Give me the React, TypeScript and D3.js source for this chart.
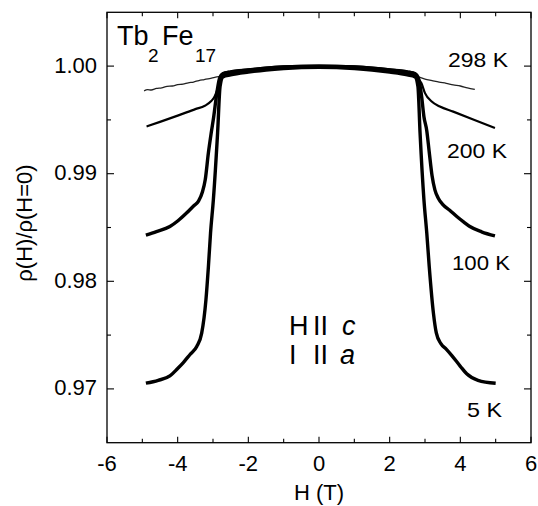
import React from "react";
import * as d3 from "d3";

// ---- data (H in tesla, rho(H)/rho(H=0)) ----
const curve298K: [number, number][] = [
  [-4.95, 0.9977], [-4.85, 0.99782], [-4.75, 0.99778], [-4.6, 0.99792], [-4.45, 0.99798],
  [-4.3, 0.99812], [-4.15, 0.99815], [-4.0, 0.99828], [-3.85, 0.99832], [-3.7, 0.99845],
  [-3.55, 0.99852], [-3.4, 0.99866], [-3.25, 0.99875], [-3.1, 0.99884], [-2.95, 0.99895],
  [-2.8, 0.99905], [-2.6, 0.99925], [-2.3, 0.99945], [-2.0, 0.9996], [-1.5, 0.99978],
  [-1.0, 0.9999], [-0.5, 0.99998], [0, 1.00002], [0.5, 0.99999], [1.0, 0.99992],
  [1.5, 0.9998], [2.0, 0.99963], [2.3, 0.9995], [2.6, 0.99925], [2.8, 0.99902],
  [3.0, 0.9988], [3.2, 0.99866], [3.4, 0.99852], [3.6, 0.9984], [3.8, 0.99826],
  [4.0, 0.99815], [4.2, 0.99798], [4.41, 0.99783],
];

const curve200K: [number, number][] = [
  [-4.88, 0.99439], [-4.5, 0.99482], [-4.0, 0.9954], [-3.5, 0.996], [-3.23, 0.99631],
  [-3.05, 0.99675], [-2.95, 0.9972], [-2.86, 0.998], [-2.8, 0.9988], [-2.72, 0.99935],
  [-2.5, 0.99952], [-2.0, 0.9997], [-1.5, 0.99986], [-1.0, 0.99997], [-0.5, 1.00003],
  [0, 1.00005], [0.5, 1.00003], [1.0, 0.99997], [1.5, 0.99986], [2.0, 0.9997],
  [2.5, 0.99952], [2.72, 0.99935], [2.8, 0.9989], [2.9, 0.9984], [3.0, 0.99749],
  [3.19, 0.99671], [3.42, 0.99624], [3.8, 0.99577], [4.4, 0.995], [4.98, 0.99424],
];

const curve100K: [number, number][] = [
  [-4.9, 0.9843], [-4.6, 0.98462], [-4.22, 0.98509], [-4.0, 0.9856], [-3.75, 0.98634],
  [-3.55, 0.987], [-3.41, 0.98745], [-3.3, 0.9883], [-3.22, 0.98943], [-3.13, 0.99194],
  [-3.05, 0.9938], [-2.98, 0.9953], [-2.9, 0.9973], [-2.82, 0.9988], [-2.74, 0.99925],
  [-2.5, 0.99944], [-2.0, 0.99964], [-1.5, 0.9998], [-1.0, 0.99991], [-0.5, 0.99997],
  [0, 0.99999], [0.5, 0.99997], [1.0, 0.99991], [1.5, 0.9998], [2.0, 0.99964],
  [2.5, 0.99944], [2.74, 0.99925], [2.82, 0.9988], [2.9, 0.9973], [2.97, 0.9953],
  [3.05, 0.994], [3.12, 0.992], [3.2, 0.9898], [3.28, 0.9885], [3.38, 0.9877],
  [3.5, 0.98715], [3.7, 0.9866], [3.9, 0.98602], [4.1, 0.9855], [4.27, 0.98509],
  [4.6, 0.9846], [4.98, 0.98422],
];

const curve5K: [number, number][] = [
  [-4.9, 0.97053], [-4.55, 0.9708], [-4.22, 0.97121], [-4.0, 0.9719], [-3.84, 0.97245],
  [-3.65, 0.9732], [-3.46, 0.97394], [-3.32, 0.97518], [-3.2, 0.97828], [-3.13, 0.98137],
  [-3.07, 0.98447], [-2.99, 0.98757], [-2.87, 0.9938], [-2.8, 0.9981], [-2.72, 0.999],
  [-2.5, 0.99918], [-2.0, 0.99944], [-1.5, 0.99964], [-1.0, 0.99978], [-0.5, 0.99987],
  [0, 0.9999], [0.5, 0.99987], [1.0, 0.99978], [1.5, 0.99964], [2.0, 0.99944],
  [2.5, 0.99918], [2.72, 0.999], [2.8, 0.9981], [2.86, 0.9938], [2.97, 0.98757],
  [3.05, 0.9845], [3.12, 0.98137], [3.24, 0.977], [3.32, 0.9752], [3.45, 0.9742],
  [3.6, 0.9737], [3.76, 0.9731], [4.0, 0.9721], [4.18, 0.9714], [4.5, 0.9708],
  [5.0, 0.97053],
];

const curveLabels = ["298 K", "200 K", "100 K", "5 K"];
const xDomain: [number, number] = [-6, 6];
const yDomain: [number, number] = [0.965, 1.005];
const xTickValues = [-6, -5, -4, -3, -2, -1, 0, 1, 2, 3, 4, 5, 6];
const yTickValues = [0.97, 0.975, 0.98, 0.985, 0.99, 0.995, 1.0];

const FONT = "'Liberation Sans', Arial, Helvetica, sans-serif";

export default function App() {
  const W = 538;
  const Hh = 506;
  const left = 107, right = 531, top = 12.3, bottom = 442.7;
  const x = d3.scaleLinear().domain(xDomain).range([left, right]);
  const y = d3.scaleLinear().domain(yDomain).range([bottom, top]);
  const line = d3
    .line<[number, number]>()
    .x((d) => x(d[0]))
    .y((d) => y(d[1]))
    .curve(d3.curveMonotoneX);

  const isMajorX = (v: number) => Math.abs(v % 2) < 1e-9;
  const isMajorY = (v: number) => Math.abs(Math.round(v * 100) - v * 100) < 1e-6;

  const labelPos = [
    { t: curveLabels[0], x: 448, y: 67, w: 60 },
    { t: curveLabels[1], x: 447, y: 158, w: 60 },
    { t: curveLabels[2], x: 452, y: 270, w: 58 },
    { t: curveLabels[3], x: 467, y: 417, w: 35 },
  ];

  return (
    <svg width={W} height={Hh} style={{ position: "absolute", left: 0, top: 0, background: "#fff" }}>
      <rect x={0} y={0} width={W} height={Hh} fill="#fff" />
      {/* curves */}
      <path d={line(curve298K) || ""} fill="none" stroke="#222" strokeWidth={1.3} />
      <path d={line(curve200K) || ""} fill="none" stroke="#000" strokeWidth={2.2} />
      <path d={line(curve100K) || ""} fill="none" stroke="#000" strokeWidth={3.4} />
      <path d={line(curve5K) || ""} fill="none" stroke="#000" strokeWidth={3.4} />

      {/* frame */}
      <rect x={left} y={top} width={right - left} height={bottom - top} fill="none" stroke="#000" strokeWidth={1.3} />

      {/* x ticks */}
      {xTickValues.map((v) => {
        const len = isMajorX(v) ? 6 : 4;
        return (
          <g key={"xt" + v}>
            <line x1={x(v)} x2={x(v)} y1={bottom} y2={bottom - len} stroke="#000" strokeWidth={1.1} />
            <line x1={x(v)} x2={x(v)} y1={top} y2={top + len} stroke="#000" strokeWidth={1.1} />
            {isMajorX(v) && (
              <text x={x(v)} y={471} textAnchor="middle" fontFamily={FONT} fontSize={22}>
                {String(v)}
              </text>
            )}
          </g>
        );
      })}
      {/* y ticks */}
      {yTickValues.map((v) => {
        const major = isMajorY(v);
        const len = major ? 7 : 4;
        return (
          <g key={"yt" + v}>
            <line x1={left} x2={left + len} y1={y(v)} y2={y(v)} stroke="#000" strokeWidth={1.1} />
            <line x1={right} x2={right - len} y1={y(v)} y2={y(v)} stroke="#000" strokeWidth={1.1} />
            {major && (
              <text x={97} y={y(v) + 6.5} textAnchor="end" fontFamily={FONT} fontSize={22}>
                {v.toFixed(2)}
              </text>
            )}
          </g>
        );
      })}

      {/* axis titles */}
      <text x={319} y={500} textAnchor="middle" fontFamily={FONT} fontSize={22}>
        H (T)
      </text>
      <text
        transform="translate(32,223) rotate(-90)"
        textAnchor="middle"
        fontFamily={FONT}
        fontSize={22}
      >
        ρ(H)/ρ(H=0)
      </text>

      {/* compound title */}
      <text x={117} y={45} fontFamily={FONT} fontSize={27}>Tb</text>
      <text x={148} y={62} fontFamily={FONT} fontSize={19}>2</text>
      <text x={162} y={45} fontFamily={FONT} fontSize={27}>Fe</text>
      <text x={195} y={62} fontFamily={FONT} fontSize={19}>17</text>

      {/* curve labels */}
      {labelPos.map((l) => (
        <text key={l.t} x={l.x} y={l.y} fontFamily={FONT} fontSize={21} textLength={l.w} lengthAdjust="spacingAndGlyphs">
          {l.t}
        </text>
      ))}

      {/* orientation annotation */}
      <g fontFamily={FONT} fontSize={27}>
        <text x={289} y={335}>H</text>
        <text x={313} y={335}>II</text>
        <text x={342} y={335} fontStyle="italic">c</text>
        <text x={289} y={363.5}>I</text>
        <text x={313} y={363.5}>II</text>
        <text x={340} y={363.5} fontStyle="italic">a</text>
      </g>
    </svg>
  );
}
